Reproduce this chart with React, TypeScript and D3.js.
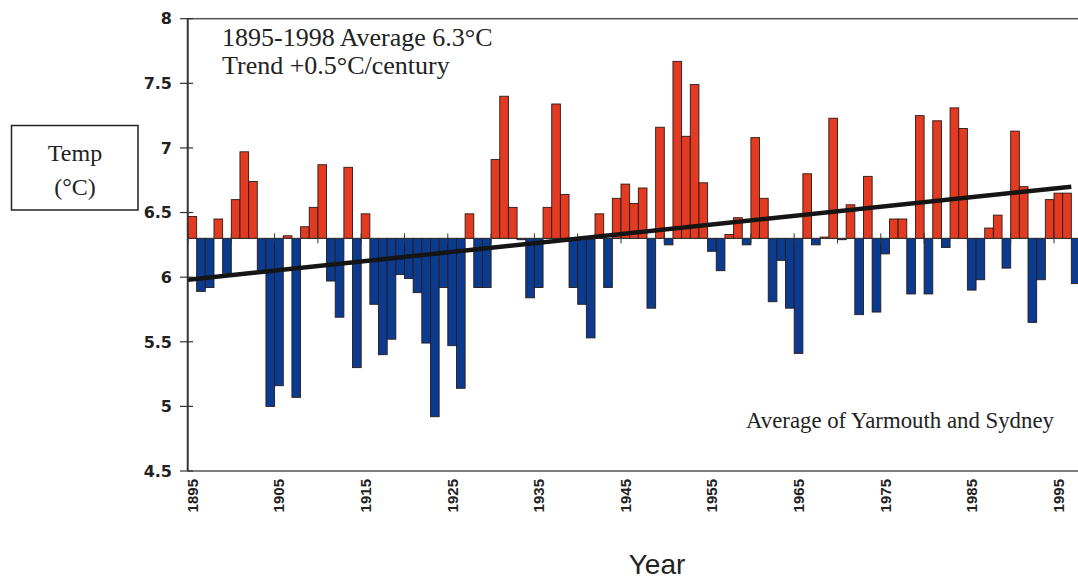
import React from "react";
import * as d3 from "d3";

// ---- data ----
const startYear = 1895;
const temps: number[] = [
  6.47, 5.89, 5.92, 6.45, 6.03, 6.6, 6.97, 6.74, 6.05, 5.0,
  5.16, 6.32, 5.07, 6.39, 6.54, 6.87, 5.97, 5.69, 6.85, 5.3,
  6.49, 5.79, 5.4, 5.52, 6.02, 5.99, 5.88, 5.49, 4.92, 5.92,
  5.47, 5.14, 6.49, 5.92, 5.92, 6.91, 7.4, 6.54, 6.29, 5.84,
  5.92, 6.54, 7.34, 6.64, 5.92, 5.79, 5.53, 6.49, 5.92, 6.61,
  6.72, 6.57, 6.69, 5.76, 7.16, 6.25, 7.67, 7.09, 7.49, 6.73,
  6.2, 6.05, 6.33, 6.46, 6.25, 7.08, 6.61, 5.81, 6.13, 5.76,
  5.41, 6.8, 6.25, 6.31, 7.23, 6.29, 6.56, 5.71, 6.78, 5.73,
  6.18, 6.45, 6.45, 5.87, 7.25, 5.87, 7.21, 6.23, 7.31, 7.15,
  5.9, 5.98, 6.38, 6.48, 6.07, 7.13, 6.7, 5.65, 5.98, 6.6,
  6.65, 6.65, 5.95,
];
const baselineValue = 6.3;
const yTicks = [4.5, 5, 5.5, 6, 6.5, 7, 7.5, 8];
const yTickLabels = ["4.5", "5", "5.5", "6", "6.5", "7", "7.5", "8"];
const xLabelYears = [1895, 1905, 1915, 1925, 1935, 1945, 1955, 1965, 1975, 1985, 1995];
const trendYears = [1895, 1997];
const trendValues = [5.98, 6.7];
const titleLine1 = "1895-1998 Average 6.3°C";
const titleLine2 = "Trend +0.5°C/century";
const noteText = "Average of Yarmouth and Sydney";

// ---- layout ----
const W = 1078;
const H = 580;
const plotLeft = 188;
const bandW = 8.66;
const plotTop = 18.7;
const plotBottom = 471;

export default function App() {
  const x = d3
    .scaleLinear()
    .domain([1895, 1999])
    .range([plotLeft, plotLeft + 104 * bandW]);
  const y = d3.scaleLinear().domain([4.5, 8]).range([plotBottom, plotTop]);
  const y0 = y(baselineValue);
  const baseTicks = d3.range(1895, 1999, 5);
  const trendLine = d3
    .line<number>()
    .x((_, i) => x(trendYears[i]))
    .y((v) => y(v));

  const red = "#e23b22";
  const blue = "#0b3b8f";
  const serif = "Liberation Serif, Times New Roman, serif";

  return (
    <svg
      width={W}
      height={H}
      style={{ position: "absolute", left: 0, top: 0, background: "#fff" }}
    >
      {/* plot frame */}
      <rect
        x={plotLeft}
        y={plotTop}
        width={1100 - plotLeft}
        height={plotBottom - plotTop}
        fill="#fff"
        stroke="#555"
        strokeWidth={1.5}
      />
      {/* bars */}
      {temps.map((v, i) => {
        const yr = startYear + i;
        const x0 = x(yr);
        const x1 = x(yr + 1);
        const yv = y(v);
        const up = v >= baselineValue;
        return (
          <rect
            key={yr}
            x={x0}
            y={Math.min(yv, y0)}
            width={x1 - x0}
            height={Math.abs(y0 - yv)}
            fill={up ? red : blue}
            stroke="#2a1a16"
            strokeWidth={0.9}
          />
        );
      })}
      {/* baseline axis at 6.3 */}
      <line x1={plotLeft} x2={1100} y1={y0} y2={y0} stroke="#333" strokeWidth={1} />
      {baseTicks.map((t) => (
        <line key={t} x1={x(t)} x2={x(t)} y1={y0 - 5} y2={y0 + 5} stroke="#333" strokeWidth={1} />
      ))}
      {/* trend line */}
      <path d={trendLine(trendValues) || ""} fill="none" stroke="#151515" strokeWidth={4.5} />
      {/* left value axis */}
      <line x1={plotLeft - 0.5} x2={plotLeft - 0.5} y1={plotTop} y2={plotBottom} stroke="#333" strokeWidth={1.5} />
      {yTicks.map((t, i) => (
        <g key={t}>
          <line x1={plotLeft - 8} x2={plotLeft + 5} y1={y(t)} y2={y(t)} stroke="#333" strokeWidth={1.2} />
          <text
            x={172}
            y={y(t)}
            dy="0.36em"
            textAnchor="end"
            fontFamily="DejaVu Sans, sans-serif"
            fontWeight="bold"
            fontSize={16}
            fill="#222"
          >
            {yTickLabels[i]}
          </text>
        </g>
      ))}
      {/* x labels */}
      {xLabelYears.map((yr) => (
        <text
          key={yr}
          transform={`translate(${x(yr + 0.5)},${479}) rotate(-90)`}
          dy="0.36em"
          textAnchor="end"
          fontFamily="Liberation Sans, Arial, sans-serif"
          fontWeight="bold"
          fontSize={15}
          fill="#222"
        >
          {yr}
        </text>
      ))}
      {/* axis titles */}
      <text
        x={657}
        y={574}
        textAnchor="middle"
        fontFamily="Liberation Sans, Arial, sans-serif"
        fontSize={28}
        fill="#222"
      >
        Year
      </text>
      <rect x={11.5} y={125.5} width={126.5} height={84.5} fill="#fff" stroke="#222" strokeWidth={1.5} />
      <text x={75} y={161} textAnchor="middle" fontFamily={serif} fontSize={24} fill="#222">
        Temp
      </text>
      <text x={75} y={195} textAnchor="middle" fontFamily={serif} fontSize={24} fill="#222">
        (°C)
      </text>
      {/* annotations */}
      <text x={222} y={46} fontFamily={serif} fontSize={26} fill="#222">
        {titleLine1}
      </text>
      <text x={222} y={74} fontFamily={serif} fontSize={26} fill="#222">
        {titleLine2}
      </text>
      <text x={746} y={428} fontFamily={serif} fontSize={22.8} fill="#222">
        {noteText}
      </text>
    </svg>
  );
}
